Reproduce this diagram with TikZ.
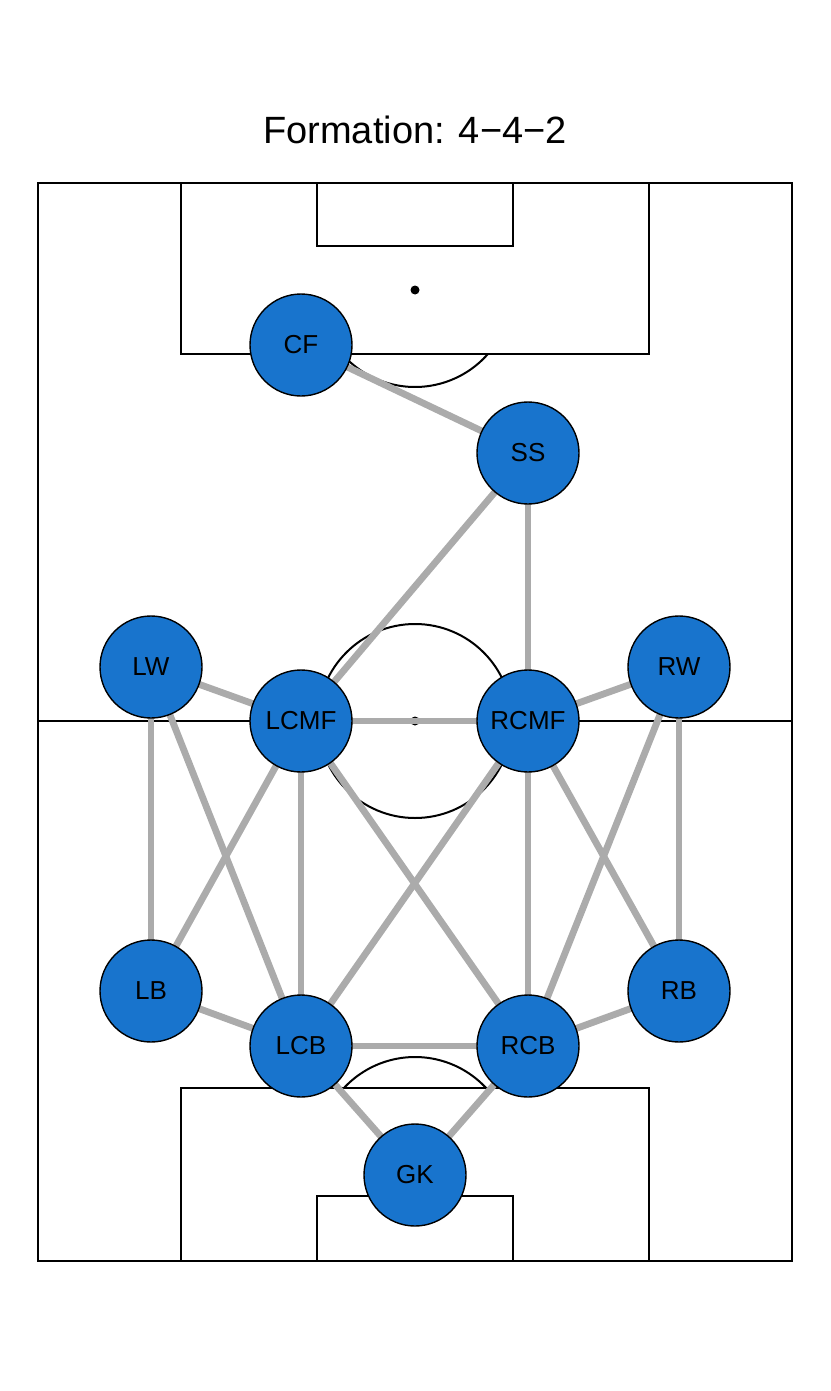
\documentclass[tikz,border=0pt]{standalone}
\usepackage{fontspec}
\setmainfont{Liberation Sans}
\begin{document}
\begin{tikzpicture}[x=0.5pt,y=-0.5pt,
  pitchline/.style={draw=black,line width=1pt},
  link/.style={draw=black!33,line width=3.4pt},
  player/.style={circle,draw=black,line width=0.7pt,fill=plblue,minimum size=51pt,inner sep=0pt,font=\fontsize{13}{13}\selectfont}]
\definecolor{plblue}{RGB}{24,116,205}
\useasboundingbox (0,0) rectangle (830,1391);
% title
\node[font=\fontsize{19}{19}\selectfont] (title) at (415,130) {Formation: 4\symbol{"2212}4\symbol{"2212}2};
% pitch
\draw[pitchline] (38,183) rectangle (792,1261);
\draw[pitchline] (38,721) -- (792,721);
\draw[pitchline] (415,721) circle[radius=97];
\fill (415,721) circle[radius=4.5];
% top
\draw[pitchline] (181,183) -- (181,354) -- (649,354) -- (649,183);
\draw[pitchline] (317,183) -- (317,246) -- (513,246) -- (513,183);
\fill (415,290) circle[radius=4.5];
\draw[pitchline] (415,290) ++(41.4:97) arc[start angle=41.4,end angle=138.6,radius=97];
% bottom
\draw[pitchline] (181,1261) -- (181,1088) -- (649,1088) -- (649,1261);
\draw[pitchline] (317,1261) -- (317,1196) -- (513,1196) -- (513,1261);
\draw[pitchline] (415,1154) ++(-42.9:97) arc[start angle=-42.9,end angle=-137.1,radius=97];
% players
\coordinate (pCF) at (301,345);
\coordinate (pSS) at (528,453);
\coordinate (pLW) at (151,667);
\coordinate (pRW) at (679,667);
\coordinate (pLCMF) at (301,721);
\coordinate (pRCMF) at (528,721);
\coordinate (pLB) at (151,991);
\coordinate (pRB) at (679,991);
\coordinate (pLCB) at (301,1046);
\coordinate (pRCB) at (528,1046);
\coordinate (pGK) at (415,1175);
\foreach \a/\b in {CF/SS,SS/LCMF,SS/RCMF,LW/LCMF,RW/RCMF,LCMF/RCMF,LW/LB,RW/RB,LW/LCB,LCMF/LB,LCMF/LCB,LCMF/RCB,RCMF/LCB,RCMF/RCB,RCMF/RB,RW/RCB,LB/LCB,RB/RCB,LCB/RCB,LCB/GK,RCB/GK}
  \draw[link] (p\a) -- (p\b);
\foreach \n in {CF,SS,LW,RW,LCMF,RCMF,LB,RB,LCB,RCB,GK}
  \node[player] (\n) at (p\n) {\n};
\end{tikzpicture}
\end{document}
